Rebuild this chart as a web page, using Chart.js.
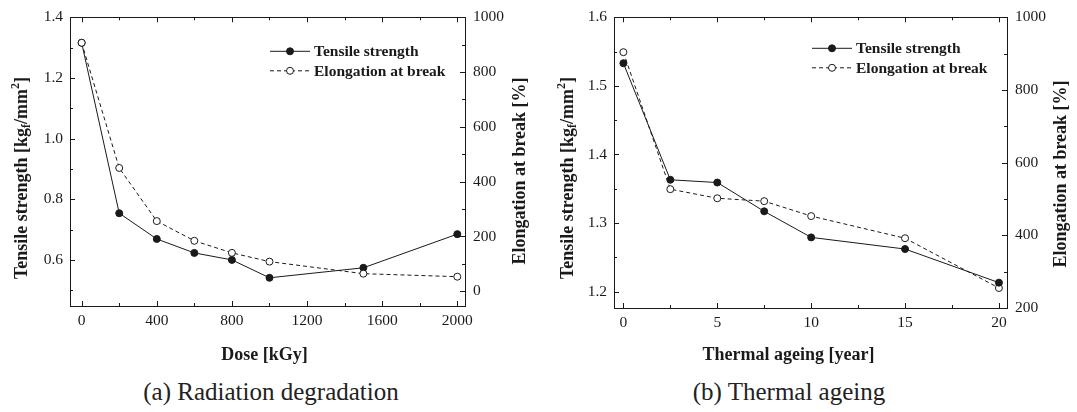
<!DOCTYPE html>
<html>
<head>
<meta charset="utf-8">
<script src="https://cdn.jsdelivr.net/npm/chart.js@4.4.0/dist/chart.umd.min.js"></script>
<style>
  html, body { margin: 0; padding: 0; background: #fff; }
  body { width: 1077px; height: 412px; position: relative; overflow: hidden; }
  canvas { position: absolute; top: 0; }
  #chartA { left: 0; }
  #chartB { left: 540px; }
  .caption {
    position: absolute; top: 378px; transform: translateX(-50%);
    font-family: "Liberation Serif", "Times New Roman", serif; font-size: 25px;
    color: #222; white-space: nowrap; line-height: 28px;
  }
</style>
</head>
<body>
<canvas id="chartA" width="540" height="372"></canvas>
<canvas id="chartB" width="537" height="372"></canvas>
<div class="caption" style="left:271px">(a) Radiation degradation</div>
<div class="caption" style="left:789px">(b) Thermal ageing</div>
<script>
// (a) radiation degradation
const doseKGy = [0, 200, 400, 600, 800, 1000, 1500, 2000];
const tensileRad = [1.316, 0.754, 0.669, 0.623, 0.600, 0.541, 0.574, 0.685];
const elongRad = [907, 450, 256, 184, 140, 108, 64, 53];

// (b) thermal ageing
const ageYears = [0, 2.5, 5, 7.5, 10, 15, 20];
const tensileTherm = [1.533, 1.363, 1.359, 1.317, 1.279, 1.262, 1.213];
const elongTherm = [904, 527, 502, 494, 453, 392, 255];

// tick labels (major) and minor tick marks
const doseTicks = [0, 400, 800, 1200, 1600, 2000];
const doseMinor = [200, 600, 1000, 1400, 1800];
const tensileRadTicks = [0.6, 0.8, 1.0, 1.2, 1.4];
const tensileRadMinor = [0.5, 0.7, 0.9, 1.1, 1.3];
const elongRadTicks = [0, 200, 400, 600, 800, 1000];
const elongRadMinor = [100, 300, 500, 700, 900];
const ageTicks = [0, 5, 10, 15, 20];
const ageMinor = [2.5, 7.5, 12.5, 17.5];
const tensileThermTicks = [1.2, 1.3, 1.4, 1.5, 1.6];
const tensileThermMinor = [1.25, 1.35, 1.45, 1.55];
const elongThermTicks = [200, 400, 600, 800, 1000];
const elongThermMinor = [300, 500, 700, 900];

const INK = "#1a1a1a";
const SERIF = '"Liberation Serif", "Times New Roman", serif';
const tickFont = { family: SERIF, size: 15.5 };

const tensileTitle = [
  { t: "Tensile strength [kg" }, { t: "f", s: "sub" }, { t: "/mm" }, { t: "2", s: "sup" }, { t: "]" }
];
const elongTitle = [{ t: "Elongation at break [%]" }];

function drawRich(ctx, parts, x, y, rot) {
  const big = "bold 18px " + SERIF, small = "bold 12px " + SERIF;
  let w = 0;
  parts.forEach(p => { ctx.font = p.s ? small : big; p.w = ctx.measureText(p.t).width; w += p.w; });
  ctx.save();
  ctx.translate(x, y);
  ctx.rotate(rot);
  let cx = -w / 2;
  parts.forEach(p => {
    ctx.font = p.s ? small : big;
    ctx.fillText(p.t, cx, p.s === "sub" ? 5 : p.s === "sup" ? -6 : 0);
    cx += p.w;
  });
  ctx.restore();
}

// tick marks point into the plot, on all four sides
const innerTicks = {
  id: "innerTicks",
  afterDraw(chart, args, o) {
    const { ctx, chartArea: a, scales } = chart;
    ctx.save();
    ctx.strokeStyle = INK;
    ctx.lineWidth = 1;
    ctx.beginPath();
    [[o.x, 5], [o.xMinor, 3]].forEach(([list, len]) => list.forEach(v => {
      const px = Math.round(scales.x.getPixelForValue(v)) + 0.5;
      ctx.moveTo(px, a.bottom); ctx.lineTo(px, a.bottom - len);
      ctx.moveTo(px, a.top); ctx.lineTo(px, a.top + len);
    }));
    [[o.y, 5], [o.yMinor, 3]].forEach(([list, len]) => list.forEach(v => {
      const py = Math.round(scales.y.getPixelForValue(v)) + 0.5;
      ctx.moveTo(a.left, py); ctx.lineTo(a.left + len, py);
    }));
    [[o.y2, 5], [o.y2Minor, 3]].forEach(([list, len]) => list.forEach(v => {
      const py = Math.round(scales.y2.getPixelForValue(v)) + 0.5;
      ctx.moveTo(a.right, py); ctx.lineTo(a.right - len, py);
    }));
    ctx.stroke();
    ctx.restore();
  }
};

// legend with line + marker sample, inside the plot
const lineLegend = {
  id: "lineLegend",
  afterDatasetsDraw(chart, args, o) {
    const { ctx, chartArea: a } = chart;
    const x0 = a.right - o.offsetX;
    chart.data.datasets.forEach((ds, i) => {
      const y = a.top + o.firstRow + i * o.rowGap;
      ctx.save();
      ctx.strokeStyle = ds.borderColor;
      ctx.lineWidth = ds.borderWidth;
      ctx.setLineDash(ds.borderDash || []);
      ctx.beginPath(); ctx.moveTo(x0, y); ctx.lineTo(x0 + 40, y); ctx.stroke();
      ctx.setLineDash([]);
      ctx.beginPath(); ctx.arc(x0 + 20, y, ds.pointRadius, 0, Math.PI * 2);
      ctx.fillStyle = ds.pointBackgroundColor; ctx.fill();
      ctx.strokeStyle = ds.pointBorderColor; ctx.stroke();
      ctx.fillStyle = INK;
      ctx.font = "bold 15.5px " + SERIF;
      ctx.textBaseline = "middle";
      ctx.fillText(ds.label, x0 + 44, y + 1);
      ctx.restore();
    });
  }
};

const axisTitles = {
  id: "axisTitles",
  afterDraw(chart, args, o) {
    const { ctx, chartArea: a } = chart;
    ctx.save();
    ctx.fillStyle = INK;
    ctx.textBaseline = "middle";
    drawRich(ctx, tensileTitle, o.leftX, o.leftY, -Math.PI / 2);
    drawRich(ctx, elongTitle, o.rightX, o.rightY, -Math.PI / 2);
    drawRich(ctx, [{ t: o.bottom }], (a.left + a.right) / 2 + o.bottomShift, o.bottomY, 0);
    ctx.restore();
  }
};

function linScale(position, min, max, values, fmt, size, pad, show) {
  return {
    type: "linear", position: position, min: min, max: max,
    grid: { drawOnChartArea: false, drawTicks: false },
    border: { display: true, color: INK, width: 1 },
    ticks: { display: show, font: tickFont, color: INK, padding: pad, callback: fmt, maxRotation: 0, autoSkip: false },
    afterBuildTicks: s => { s.ticks = values.map(v => ({ value: v })); },
    afterFit: s => { if (s.isHorizontal()) s.height = size; else s.width = size; }
  };
}

function panel(id, p) {
  const xy = (xs, ys) => xs.map((x, i) => ({ x: x, y: ys[i] }));
  new Chart(document.getElementById(id), {
    type: "line",
    data: {
      datasets: [
        {
          label: "Tensile strength", data: xy(p.x, p.tensile), yAxisID: "y", order: p.tensileOrder,
          borderColor: INK, borderWidth: 1, pointRadius: 3.5, pointBorderWidth: 1,
          pointBackgroundColor: INK, pointBorderColor: INK, tension: 0
        },
        {
          label: "Elongation at break", data: xy(p.x, p.elong), yAxisID: "y2", order: 1 - p.tensileOrder,
          borderColor: INK, borderWidth: 1, borderDash: [4, 3], pointRadius: 3.5, pointBorderWidth: 1,
          pointBackgroundColor: "#fff", pointBorderColor: INK, tension: 0
        }
      ]
    },
    options: {
      responsive: false,
      animation: false,
      devicePixelRatio: 1,
      layout: { padding: 0 },
      scales: {
        x: linScale("bottom", p.xMin, p.xMax, p.xTicks, v => String(v), p.bottomH, 6, true),
        xTop: linScale("top", p.xMin, p.xMax, p.xTicks, v => String(v), p.topH, 0, false),
        y: linScale("left", p.yMin, p.yMax, p.yTicks, v => v.toFixed(1), p.leftW, 7, true),
        y2: linScale("right", p.y2Min, p.y2Max, p.y2Ticks, v => String(v), p.rightW, 8, true)
      },
      plugins: {
        legend: { display: false },
        tooltip: { enabled: false },
        innerTicks: { x: p.xTicks, xMinor: p.xMinor, y: p.yTicks, yMinor: p.yMinor, y2: p.y2Ticks, y2Minor: p.y2Minor },
        lineLegend: { offsetX: 195, firstRow: p.legendRow, rowGap: 19.5 },
        axisTitles: p.titles
      }
    },
    plugins: [innerTicks, lineLegend, axisTitles]
  });
}

panel("chartA", {
  x: doseKGy, tensile: tensileRad, elong: elongRad, tensileOrder: 1,
  xMin: -62, xMax: 2041, xTicks: doseTicks, xMinor: doseMinor,
  yMin: 0.448, yMax: 1.4, yTicks: tensileRadTicks, yMinor: tensileRadMinor,
  y2Min: -54, y2Max: 1000, y2Ticks: elongRadTicks, y2Minor: elongRadMinor,
  leftW: 70, rightW: 75, topH: 13, bottomH: 66, legendRow: 34,
  titles: { leftX: 22, leftY: 178, rightX: 520, rightY: 171, bottom: "Dose [kGy]", bottomShift: -3, bottomY: 355 }
});

panel("chartB", {
  x: ageYears, tensile: tensileTherm, elong: elongTherm, tensileOrder: 0,
  xMin: -0.5, xMax: 20.43, xTicks: ageTicks, xMinor: ageMinor,
  yMin: 1.176, yMax: 1.6, yTicks: tensileThermTicks, yMinor: tensileThermMinor,
  y2Min: 200, y2Max: 1000, y2Ticks: elongThermTicks, y2Minor: elongThermMinor,
  leftW: 74, rightW: 70, topH: 16, bottomH: 64, legendRow: 31,
  titles: { leftX: 28, leftY: 178, rightX: 521, rightY: 174, bottom: "Thermal ageing [year]", bottomShift: -22, bottomY: 355 }
});
</script>
</body>
</html>
